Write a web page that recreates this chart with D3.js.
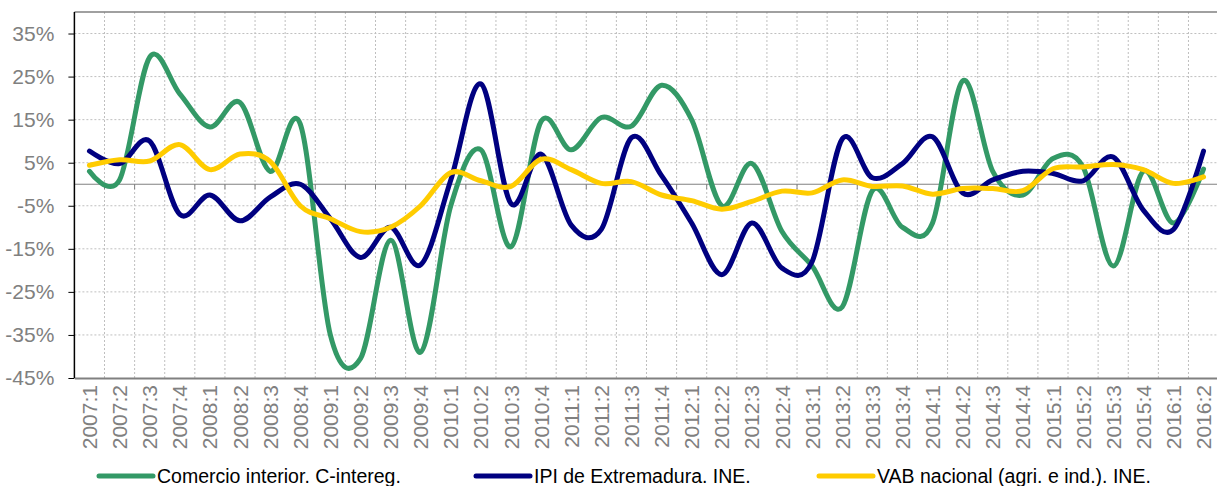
<!DOCTYPE html>
<html>
<head>
<meta charset="utf-8">
<script src="https://cdn.jsdelivr.net/npm/d3@7"></script>
<style>
  html, body { margin: 0; padding: 0; background: #fff; }
  svg { display: block; font-family: "Liberation Sans", Arial, sans-serif; }
</style>
</head>
<body>
<svg id="chart" width="1217" height="486"></svg>
<script>
// ---------- DATA ----------
const categories = [
  "2007:1","2007:2","2007:3","2007:4","2008:1","2008:2","2008:3","2008:4",
  "2009:1","2009:2","2009:3","2009:4","2010:1","2010:2","2010:3","2010:4",
  "2011:1","2011:2","2011:3","2011:4","2012:1","2012:2","2012:3","2012:4",
  "2013:1","2013:2","2013:3","2013:4","2014:1","2014:2","2014:3","2014:4",
  "2015:1","2015:2","2015:3","2015:4","2016:1","2016:2"
];
const comercioInterior = [
  3, 1, 29.5, 21, 13.3, 19, 3, 14,
  -35, -40.5, -13, -39, -5, 8, -14.5, 14.6,
  8, 15.5, 13.5, 23, 15, -5, 4.8, -11,
  -19, -28.5, -1.5, -10, -9, 24, 3, -2.5,
  6, 4, -19, 3, -9, 3.5
];
const ipiExtremadura = [
  7.7, 4.8, 10, -7, -2.5, -8.5, -3, 0,
  -8, -17, -10, -18.7, 1, 23.3, -4.5, 7,
  -9.5, -10.5, 10.8, 2, -9, -21, -9, -19.5,
  -18, 10.5, 1.5, 4.8, 11, -2, 1, 3,
  2.5, 0.8, 6.3, -6, -10.5, 7.7
];
const vabNacional = [
  4.4, 5.7, 5.4, 9.2, 3.4, 7, 5.3, -5,
  -8, -11, -10, -5, 2.7, 0.8, -0.5, 5.8,
  3.4, 0.2, 0.6, -2.5, -3.8, -5.8, -4, -1.6,
  -2, 1, -0.5, -0.4, -2.3, -1, -1, -1.5,
  3.6, 4, 4.6, 3.4, 0.2, 1.7
];
const yTicks = [-45, -35, -25, -15, -5, 5, 15, 25, 35];
const seriesNames = [
  "Comercio interior. C-intereg.",
  "IPI de Extremadura. INE.",
  "VAB nacional (agri. e ind.). INE."
];
const seriesColors = ["#339966", "#000080", "#FFCC00"];

// ---------- LAYOUT ----------
const svg = d3.select("#chart");
const plotLeft = 74.4, plotTop = 12, plotBottom = 378;
const bandW = 30.11;
const plotRight = plotLeft + bandW * categories.length;

const x = d3.scaleBand().domain(categories).range([plotLeft, plotRight]).padding(0);
const y = d3.scaleLinear().domain([-45, 40]).range([plotBottom, plotTop]);

// gridlines horizontal
svg.append("g").selectAll("line").data(yTicks.filter(t => t > -45))
  .join("line")
  .attr("x1", plotLeft).attr("x2", plotRight)
  .attr("y1", d => y(d)).attr("y2", d => y(d))
  .attr("stroke", "#bfbfbf").attr("stroke-width", 1).attr("stroke-dasharray", "2,2");

// gridlines vertical (category boundaries)
svg.append("g").selectAll("line").data(categories.slice(1))
  .join("line")
  .attr("x1", d => x(d)).attr("x2", d => x(d))
  .attr("y1", plotTop).attr("y2", plotBottom)
  .attr("stroke", "#bfbfbf").attr("stroke-width", 1).attr("stroke-dasharray", "2,2");

// top border
svg.append("line")
  .attr("x1", plotLeft).attr("x2", plotRight)
  .attr("y1", plotTop).attr("y2", plotTop)
  .attr("stroke", "#808080").attr("stroke-width", 1.5);

// zero axis with ticks
const zeroAxis = d3.axisBottom(x).tickSize(5).tickFormat("")
  .tickValues(categories.slice(1));
const zg = svg.append("g").attr("transform", `translate(0,${y(0)})`).call(zeroAxis);
zg.select(".domain").remove();
zg.selectAll(".tick line").attr("stroke", "#808080")
  .attr("transform", `translate(${-bandW / 2},0)`);
svg.append("line")
  .attr("x1", plotLeft).attr("x2", plotRight)
  .attr("y1", y(0)).attr("y2", y(0))
  .attr("stroke", "#808080").attr("stroke-width", 1);

// bottom axis (labels)
const xAxis = d3.axisBottom(x).tickSize(0);
const xg = svg.append("g").attr("transform", `translate(0,${plotBottom})`).call(xAxis);
xg.select(".domain").attr("stroke", "#808080").attr("stroke-width", 2);
xg.selectAll(".tick text")
  .attr("fill", "#808080")
  .style("font-size", "21px")
  .style("font-family", "'Liberation Sans', Arial, sans-serif")
  .attr("transform", "rotate(-90)")
  .attr("x", -7).attr("y", 0).attr("dy", "0.36em")
  .attr("text-anchor", "end");

// left axis
const yAxis = d3.axisLeft(y).tickValues(yTicks).tickSize(6).tickPadding(14)
  .tickFormat(d => d + "%");
const yg = svg.append("g").attr("transform", `translate(${plotLeft},0)`).call(yAxis);
yg.select(".domain").attr("stroke", "#000").attr("stroke-width", 1.5)
  .attr("d", `M0,${plotTop}V${plotBottom}`);
yg.selectAll(".tick line").attr("stroke", "#000");
yg.selectAll(".tick text")
  .attr("fill", "#808080")
  .style("font-size", "21px")
  .style("font-family", "'Liberation Sans', Arial, sans-serif");

// lines
const allSeries = [comercioInterior, ipiExtremadura, vabNacional];
const line = d3.line()
  .x((d, i) => x(categories[i]) + x.bandwidth() / 2)
  .y(d => y(d))
  .curve(d3.curveCatmullRom.alpha(0));

svg.append("g").selectAll("path").data(allSeries)
  .join("path")
  .attr("d", d => line(d))
  .attr("fill", "none")
  .attr("stroke", (d, i) => seriesColors[i])
  .attr("stroke-width", 5)
  .attr("stroke-linejoin", "round")
  .attr("stroke-linecap", "round");

// legend
const legendX = [99, 476, 819];
const legendY = 476;
const lg = svg.append("g").selectAll("g").data(seriesNames).join("g")
  .attr("transform", (d, i) => `translate(${legendX[i]},${legendY})`);
lg.append("line")
  .attr("x1", 0).attr("x2", 54).attr("y1", 0).attr("y2", 0)
  .attr("stroke", (d, i) => seriesColors[i])
  .attr("stroke-width", 5).attr("stroke-linecap", "round");
lg.append("text")
  .attr("x", 58).attr("y", 0).attr("dy", "0.36em")
  .style("font-size", "19.5px")
  .attr("fill", "#000")
  .text(d => d);
</script>
</body>
</html>
